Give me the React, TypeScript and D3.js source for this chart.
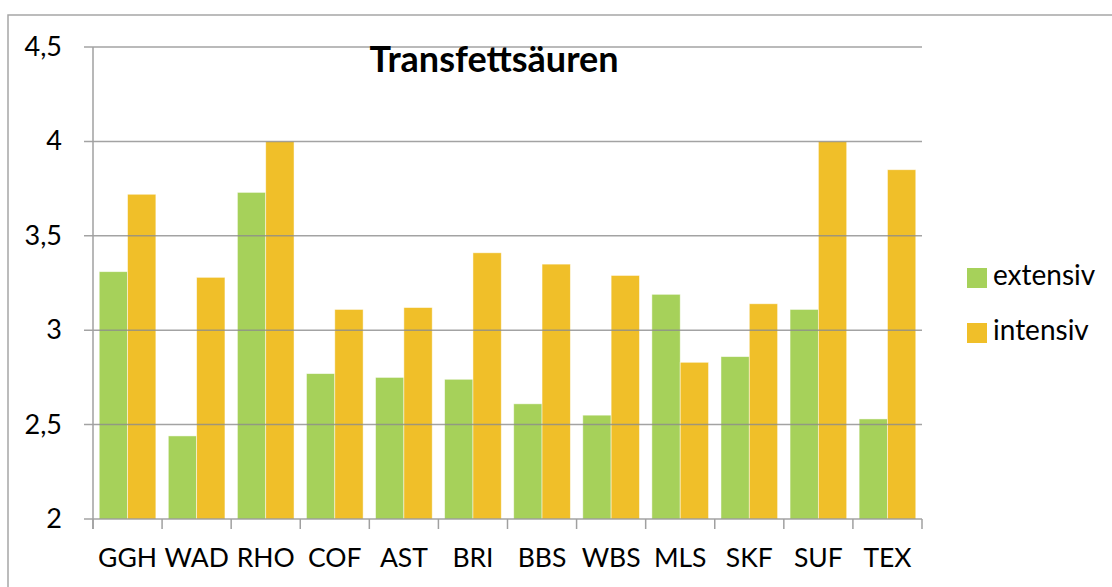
import * as d3 from "d3";

const categories = ["GGH", "WAD", "RHO", "COF", "AST", "BRI", "BBS", "WBS", "MLS", "SKF", "SUF", "TEX"];
const seriesNames = ["extensiv", "intensiv"];
const extensiv = [3.31, 2.44, 3.73, 2.77, 2.75, 2.74, 2.61, 2.55, 3.19, 2.86, 3.11, 2.53];
const intensiv = [3.72, 3.28, 4.0, 3.11, 3.12, 3.41, 3.35, 3.29, 2.83, 3.14, 4.0, 3.85];
const yTicks = [2, 2.5, 3, 3.5, 4, 4.5];
const colors = ["#a6d15a", "#f0bf29"];

const W = 1112;
const H = 587;
const plot = { left: 93, right: 922, top: 47, bottom: 519 };
const font = "Lato, 'Open Sans', sans-serif";

export default function App() {
  const x = d3
    .scaleBand<string>()
    .domain(categories)
    .range([plot.left, plot.right])
    .paddingInner(0.18)
    .paddingOuter(0.09);
  const xs = d3.scaleBand<string>().domain(seriesNames).range([0, x.bandwidth()]);
  const y = d3.scaleLinear().domain([2, 4.5]).range([plot.bottom, plot.top]);
  const fmt = (v: number) => d3.format(".1~f")(v).replace(".", ",");
  const step = (plot.right - plot.left) / categories.length;
  const values = [extensiv, intensiv];

  return (
    <svg
      width={W}
      height={H}
      style={{ position: "absolute", left: 0, top: 0, background: "#fff" }}
      fontFamily={font}
    >
      {/* chart frame, runs off the page on the right and bottom */}
      <rect x={8} y={15} width={1200} height={700} fill="#fff" stroke="#a6a6a6" strokeWidth={1.5} />

      {/* bars */}
      {categories.map((c, i) => (
        <g key={c} transform={`translate(${x(c)},0)`}>
          {seriesNames.map((s, j) => (
            <rect
              key={s}
              x={xs(s)}
              y={y(values[j][i])}
              width={xs.bandwidth()}
              height={y(2) - y(values[j][i])}
              fill={colors[j]}
              stroke="#fff"
              strokeOpacity={0.6}
              strokeWidth={0.8}
            />
          ))}
        </g>
      ))}

      {/* gridlines over the bars */}
      {yTicks.map((t) => (
        <line
          key={t}
          x1={plot.left - 9}
          x2={plot.right}
          y1={y(t)}
          y2={y(t)}
          stroke="#8c8c8c"
          strokeOpacity={0.8}
          strokeWidth={1.5}
        />
      ))}
      <line x1={plot.left} x2={plot.left} y1={plot.top} y2={plot.bottom + 10} stroke="#a0a0a0" strokeWidth={1.5} />
      {d3.range(categories.length + 1).map((k) => (
        <line
          key={k}
          x1={plot.left + k * step}
          x2={plot.left + k * step}
          y1={plot.bottom}
          y2={plot.bottom + 10}
          stroke="#a0a0a0"
          strokeWidth={1.5}
        />
      ))}

      {/* y labels */}
      {yTicks.map((t) => (
        <text key={t} x={62} y={y(t) + 9} textAnchor="end" fontSize={27} fill="#000">
          {fmt(t)}
        </text>
      ))}

      {/* x labels */}
      {categories.map((c) => (
        <text key={c} x={(x(c) as number) + x.bandwidth() / 2} y={567} textAnchor="middle" fontSize={26.5} fill="#000">
          {c}
        </text>
      ))}

      {/* title */}
      <text x={494} y={72} textAnchor="middle" fontSize={36} fontWeight="bold" fill="#000">
        Transfettsäuren
      </text>

      {/* legend */}
      {seriesNames.map((s, j) => (
        <g key={s} transform={`translate(967,${268 + j * 55})`}>
          <rect width={20} height={20} fill={colors[j]} />
          <text x={26} y={17} fontSize={28} fill="#000">
            {s}
          </text>
        </g>
      ))}
    </svg>
  );
}
